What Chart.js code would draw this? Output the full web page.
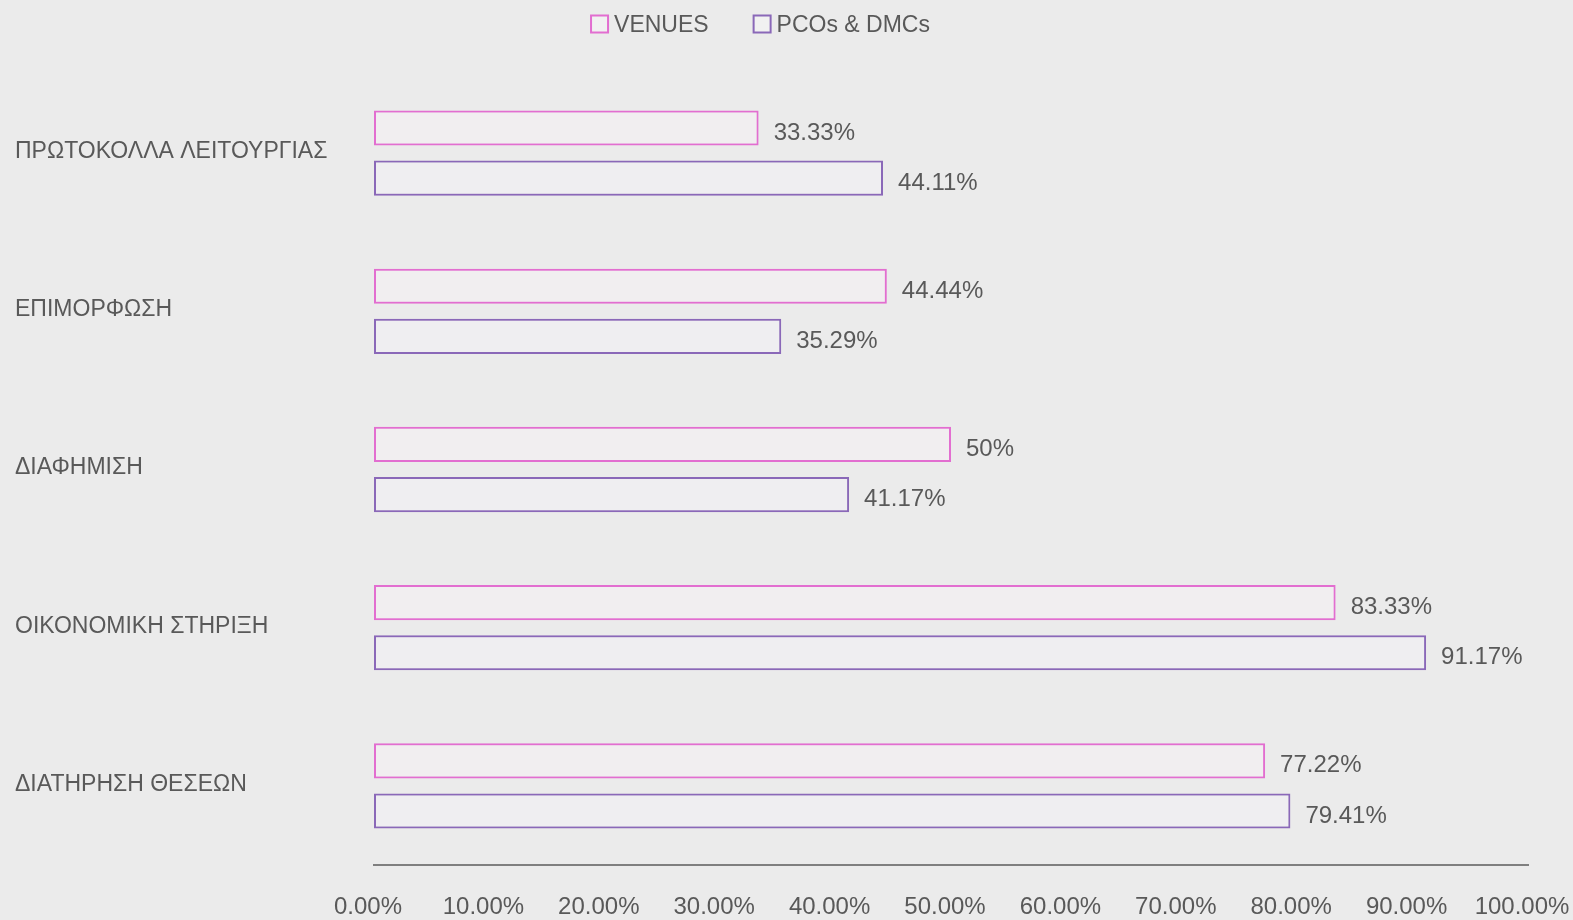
<!DOCTYPE html>
<html><head><meta charset="utf-8">
<script src="https://cdn.jsdelivr.net/npm/chart.js@4"></script>
<style>html,body{margin:0;padding:0;background:#ebebeb;}#wrap{width:1573px;height:920px;}</style>
</head><body><div id="wrap"><canvas id="c" width="1573" height="920"></canvas></div>
<script>
const categories = ["ΠΡΩΤΟΚΟΛΛΑ ΛΕΙΤΟΥΡΓΙΑΣ","ΕΠΙΜΟΡΦΩΣΗ","ΔΙΑΦΗΜΙΣΗ","ΟΙΚΟΝΟΜΙΚΗ ΣΤΗΡΙΞΗ","ΔΙΑΤΗΡΗΣΗ ΘΕΣΕΩΝ"];
const venues = [33.33, 44.44, 50, 83.33, 77.22];
const pcos = [44.11, 35.29, 41.17, 91.17, 79.41];
const venueLabels = ["33.33%","44.44%","50%","83.33%","77.22%"];
const pcoLabels = ["44.11%","35.29%","41.17%","91.17%","79.41%"];
const seriesNames = ["VENUES","PCOs & DMCs"];

const FONT = "'Liberation Sans', Arial, sans-serif";
const TXT = '#595959';

const valueLabels = {
  id:'valueLabels',
  afterDatasetsDraw(chart){
    const ctx = chart.ctx;
    const lbls = [venueLabels, pcoLabels];
    ctx.save();
    ctx.font = '24px ' + FONT;
    ctx.fillStyle = TXT;
    ctx.textBaseline = 'middle';
    ctx.textAlign = 'left';
    chart.data.datasets.forEach((ds, i) => {
      chart.getDatasetMeta(i).data.forEach((el, j) => {
        ctx.fillText(lbls[i][j], el.x + 15, el.y + 5);
      });
    });
    ctx.restore();
  }
};

const topLegend = {
  id:'topLegend',
  afterDraw(chart){
    const ctx = chart.ctx;
    ctx.save();
    ctx.font = '23px ' + FONT;
    ctx.textBaseline = 'middle';
    ctx.textAlign = 'left';
    const box = 17, gapText = 6, gapItem = 45;
    const items = chart.data.datasets.map(ds => ({text: ds.label, color: ds.borderColor, w: ctx.measureText(ds.label).width}));
    const total = items.reduce((s, it) => s + box + gapText + it.w, 0) + gapItem * (items.length - 1);
    let x = 760.5 - total / 2;
    const cy = 25;
    items.forEach(it => {
      ctx.fillStyle = 'rgba(255,255,255,0.3)';
      ctx.fillRect(x, cy - box/2 - 1, box, box);
      ctx.strokeStyle = it.color;
      ctx.lineWidth = 2;
      ctx.strokeRect(x, cy - box/2 - 1, box, box);
      ctx.fillStyle = TXT;
      ctx.fillText(it.text, x + box + gapText, cy + 1);
      x += box + gapText + it.w + gapItem;
    });
    ctx.restore();
  }
};

new Chart(document.getElementById('c'), {
  type:'bar',
  data:{
    labels: categories,
    datasets:[
      {label: seriesNames[0], data: venues, borderColor:'#e26ed0', backgroundColor:'rgba(255,245,253,0.3)', borderWidth:2, borderSkipped:false, categoryPercentage:0.634, barPercentage:0.7},
      {label: seriesNames[1], data: pcos, borderColor:'#8a68b8', backgroundColor:'rgba(248,244,255,0.3)', borderWidth:2, borderSkipped:false, categoryPercentage:0.634, barPercentage:0.7}
    ]
  },
  options:{
    indexAxis:'y',
    responsive:false,
    animation:false,
    layout:{padding:{left:15, right:0, top:74, bottom:0}},
    plugins:{
      legend:{display:false},
      tooltip:{enabled:false}
    },
    scales:{
      x:{
        min:0, max:100,
        ticks:{stepSize:10, font:{size:24, family:FONT}, color:TXT, padding:28, maxRotation:0, labelOffset:-6,
          callback:(v)=>v.toFixed(2)+'%'},
        grid:{display:false, drawTicks:false},
        border:{display:true, color:'#7f7f7f', width:2},
        afterFit(scale){ scale.height = 55; scale.paddingLeft = 0; scale.paddingRight = 45; }
      },
      y:{
        ticks:{font:{size:23, family:FONT}, color:TXT, crossAlign:'far', padding:0, labelOffset:-1.5},
        grid:{display:false, drawTicks:false},
        border:{display:false},
        afterFit(scale){ scale.width = 359; scale.paddingTop = 0; scale.paddingBottom = 0; }
      }
    }
  },
  plugins:[valueLabels, topLegend]
});
</script></body></html>
